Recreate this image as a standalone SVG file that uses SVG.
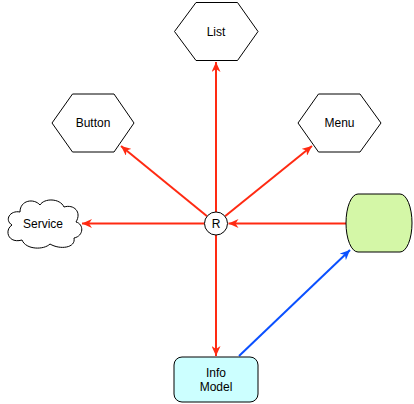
<svg xmlns="http://www.w3.org/2000/svg" width="414" height="404" viewBox="0 0 414 404">
<style>
.n{stroke:#000;stroke-width:1;}
.t{font-family:"Liberation Sans",Arial,Helvetica,sans-serif;font-size:12px;fill:#000;text-anchor:middle;dominant-baseline:central;}
.r{stroke:#ff2a12;stroke-width:2;fill:none;}
.b{stroke:#0a50ff;stroke-width:2;fill:none;}
</style>
<defs>
<marker id="ar" markerUnits="userSpaceOnUse" markerWidth="11" markerHeight="9" refX="10" refY="4.5" orient="auto" viewBox="0 0 11 9">
<path d="M0,0 L10,4.5 L0,9 L3,4.5 Z" fill="#ff2a12"/>
</marker>
<marker id="ab" markerUnits="userSpaceOnUse" markerWidth="11" markerHeight="9" refX="10" refY="4.5" orient="auto" viewBox="0 0 11 9">
<path d="M0,0 L10,4.5 L0,9 L3,4.5 Z" fill="#0a50ff"/>
</marker>
</defs>
<rect width="414" height="404" fill="#fff"/>
<g id="connectors">
<line class="r" x1="216" y1="212" x2="216" y2="62" marker-end="url(#ar)"/>
<line class="r" x1="207.1" y1="216.2" x2="121" y2="146" marker-end="url(#ar)"/>
<line class="r" x1="225" y1="216.3" x2="312" y2="146" marker-end="url(#ar)"/>
<line class="r" x1="204.5" y1="223.5" x2="82" y2="223.5" marker-end="url(#ar)"/>
<line class="r" x1="346" y1="223.5" x2="228.5" y2="223.5" marker-end="url(#ar)"/>
<line class="r" x1="216" y1="235" x2="216" y2="356" marker-end="url(#ar)"/>
<line class="b" x1="239" y1="356" x2="350" y2="250" marker-end="url(#ab)"/>
</g>
<g id="list">
<polygon class="n" fill="#fff" points="174.5,31.5 196,2.5 237.5,2.5 258,31.5 237.5,60.5 196,60.5"/>
<text class="t" x="216" y="31.5">List</text>
</g>
<g id="button">
<polygon class="n" fill="#fff" points="52,123 72.5,94 114,94 134,123 114,152 72.5,152"/>
<text class="t" x="93" y="123">Button</text>
</g>
<g id="menu">
<polygon class="n" fill="#fff" points="298,123 318.5,94 360,94 381,123 360,152 318.5,152"/>
<text class="t" x="339.5" y="123">Menu</text>
</g>
<g id="service">
<path class="n" fill="#fff" d="M20,212 C10,210 4,220 12,225 C4,230 8,244 22,240 C26,250 44,250 50,244 C60,250 76,248 74,238 C84,236 84,224 76,222 C82,212 74,204 64,207 C60,198 44,198 40,205 C34,198 20,200 20,212 Z"/>
<text class="t" x="43" y="224">Service</text>
</g>
<g id="r">
<circle class="n" fill="#fff" cx="216" cy="223.5" r="11.5"/>
<text class="t" x="216" y="224">R</text>
</g>
<g id="store">
<path class="n" fill="#d4f7a7" d="M358,194 L400,194 A12,29 0 0 1 400,252 L358,252 A12,29 0 0 1 358,194 Z"/>
</g>
<g id="info-model">
<rect class="n" fill="#ccffff" x="174" y="357" width="84" height="45" rx="8"/>
<text class="t" x="216" y="373">Info</text>
<text class="t" x="216" y="387">Model</text>
</g>
</svg>
